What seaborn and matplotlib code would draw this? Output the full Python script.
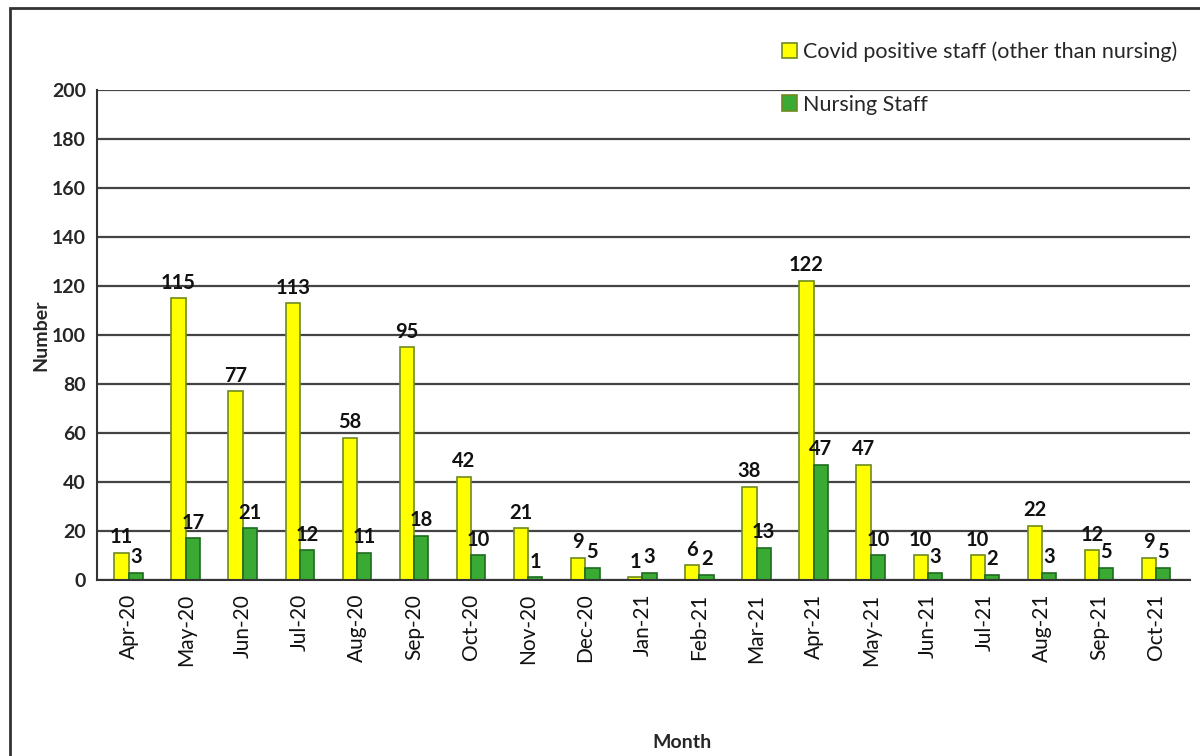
import pandas as pd
import matplotlib.pyplot as plt
import seaborn as sns
from matplotlib.patches import Rectangle

months = ['Apr-20', 'May-20', 'Jun-20', 'Jul-20', 'Aug-20', 'Sep-20', 'Oct-20',
          'Nov-20', 'Dec-20', 'Jan-21', 'Feb-21', 'Mar-21', 'Apr-21', 'May-21',
          'Jun-21', 'Jul-21', 'Aug-21', 'Sep-21', 'Oct-21']
other_staff = [11, 115, 77, 113, 58, 95, 42, 21, 9, 1, 6, 38, 122, 47, 10, 10, 22, 12, 9]
nursing_staff = [3, 17, 21, 12, 11, 18, 10, 1, 5, 3, 2, 13, 47, 10, 3, 2, 3, 5, 5]
series_names = ['Covid positive staff (other than nursing)', 'Nursing Staff']

df = pd.DataFrame({
    'Month': months * 2,
    'Number': other_staff + nursing_staff,
    'Series': [series_names[0]] * len(months) + [series_names[1]] * len(months),
})

sns.set_style('white')
plt.rcParams['font.family'] = ['Lato', 'DejaVu Sans']

fig = plt.figure(figsize=(12, 7.56), dpi=100)
ax = fig.add_axes([0.081, 0.233, 0.911, 0.648])

sns.barplot(data=df, x='Month', y='Number', hue='Series',
            palette=['#FFFF00', '#3AAA35'], width=0.5, ax=ax,
            edgecolor='#6E8B1E', linewidth=1.2, saturation=1)

# darker outline for the green bars
for bar in ax.containers[1]:
    bar.set_edgecolor('#1E6B1E')

for cont in ax.containers:
    ax.bar_label(cont, padding=4, fontsize=14.5, fontweight='bold', color='#111111')

ax.set_ylim(0, 200)
ax.set_xlim(-0.55, 18.6)
ax.set_yticks(range(0, 201, 20))
ax.yaxis.grid(True, color='#444444', linewidth=1.6)
ax.set_axisbelow(True)
for side in ['top', 'right']:
    ax.spines[side].set_visible(False)
for side in ['left', 'bottom']:
    ax.spines[side].set_color('#333333')
    ax.spines[side].set_linewidth(1.5)

ax.tick_params(axis='y', labelsize=14, length=0, pad=8)
for lbl in ax.get_yticklabels():
    lbl.set_fontweight('bold')
ax.tick_params(axis='x', labelsize=15, length=0, pad=10, rotation=90,
               labelcolor='#111111')
ax.set_ylabel('Number', fontsize=14, fontweight='bold', labelpad=2)
ax.set_xlabel('Month', fontsize=14, fontweight='bold')
ax.xaxis.set_label_coords(0.535, -0.315)

leg = ax.legend(loc='upper right', bbox_to_anchor=(1.0, 1.125), frameon=False,
                fontsize=15.5, handlelength=0.7, handleheight=0.7, handletextpad=0.3,
                labelspacing=1.5, borderaxespad=0.2)

fig.patches.append(Rectangle((0.008, -0.01), 1.0, 1.0, transform=fig.transFigure,
                             fill=False, edgecolor='#333333', linewidth=2))

fig.savefig('out.png', dpi=100)
